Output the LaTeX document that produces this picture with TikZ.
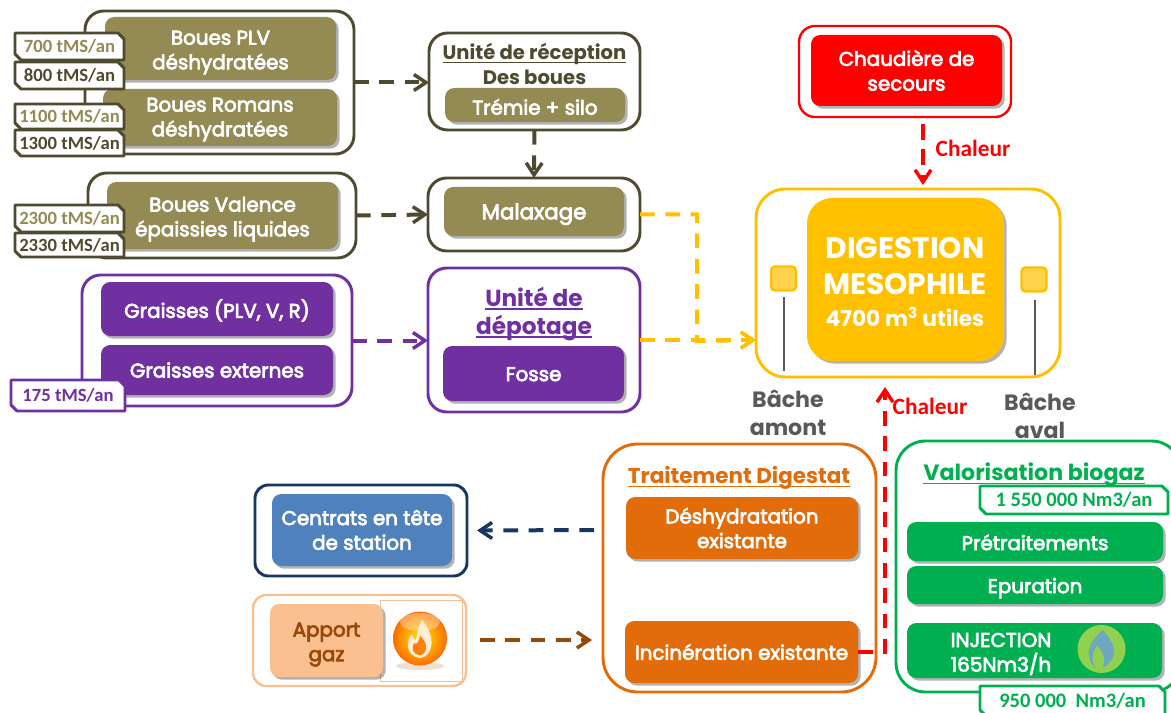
\documentclass[tikz,border=0pt]{standalone}
\usepackage{fontspec}
\setmainfont{Poppins}
\newfontfamily\tagfont{Carlito}
\newfontfamily\semif[FakeBold=3.5]{Poppins}
\usetikzlibrary{arrows.meta,shadows,calc}
\definecolor{olv}{HTML}{948A54}
\definecolor{olvd}{HTML}{4E4A30}
\definecolor{purp}{HTML}{7030A0}
\definecolor{ylw}{HTML}{FFC000}
\definecolor{org}{HTML}{E36C0A}
\definecolor{grn}{HTML}{00B050}
\definecolor{navy}{HTML}{17375E}
\definecolor{blu}{HTML}{4F81BD}
\definecolor{lorg}{HTML}{FAC090}
\definecolor{brn}{HTML}{984807}
\definecolor{gry}{HTML}{595959}
\definecolor{gcirc}{HTML}{92D050}
\definecolor{gflame}{HTML}{6FA8BE}
\newcommand{\ulx}[1]{\setbox0\hbox{#1}\rlap{\rule[-2.6pt]{\wd0}{1.1pt}}\box0}
\newcommand{\lf}[1]{\rule{0pt}{#1pt}}
\tikzset{
  sz/.style 2 args={minimum width=#1*0.75pt,minimum height=#2*0.75pt,inner sep=0pt,outer sep=0pt},
  outerbox/.style={draw=#1,fill=white,line width=2.2pt,rounded corners=14pt},
  innerbox/.style={fill=#1,rounded corners=7pt,text=white,align=center,
    font=\semif\fontsize{14.9pt}{18.5pt}\selectfont,
    drop shadow={shadow xshift=2pt,shadow yshift=-2pt,fill=black,opacity=.3}},
  lift/.style={execute at begin node={\rule{0pt}{#1pt}}},
  tagtext/.style={font=\tagfont\bfseries\fontsize{14pt}{15pt}\selectfont,text=#1,inner sep=0pt},
  flow/.style={draw=#1,line width=3pt,dash pattern=on 11pt off 8pt,
    -{Straight Barb[length=9pt,width=12pt,line width=2.6pt]}},
  titletext/.style={align=center,text=#1,font=\bfseries\fontsize{14.6pt}{18.5pt}\selectfont,inner sep=0pt},
  grylabel/.style={align=center,text=gry,font=\bfseries\fontsize{16.6pt}{21pt}\selectfont,inner sep=0pt},
  chal/.style={text=red,font=\tagfont\bfseries\fontsize{17.5pt}{18pt}\selectfont,inner sep=0pt},
}
% name, x1, y1, x2, y2, border colour, text colour, text
\newcommand{\tagbox}[8]{%
  \draw[draw=#6,fill=white,line width=2.2pt,line join=round]
    (#2,#3) -- ({#4-6},#3) -- (#4,{#3+6}) -- (#4,#5) -- ({#2+6},#5) -- (#2,{#5-6}) -- cycle;
  \node[tagtext=#7] (#1) at ({(#2+#4)/2},{(#3+#5)/2}) {#8};}
\begin{document}
\begin{tikzpicture}[x=0.75pt,y=-0.75pt]
\useasboundingbox (0,0) rectangle (1171,713);
% source groups
\node[outerbox=olvd,sz={269}{143}] (o1) at (219.5,82.5) {};
\node[innerbox=olv,sz={231}{63}] (plv) at (220.5,48.5) {\lf{16.5}Boues PLV\\déshydratées};
\node[innerbox=olv,sz={234}{57}] (rom) at (220,117.5) {\lf{13.5}Boues Romans\\déshydratées};
\tagbox{t1}{15}{33}{124}{60}{olvd}{olv}{700 tMS/an}
\tagbox{t2}{15}{62}{124}{89}{olvd}{olvd}{800 tMS/an}
\tagbox{t3}{15}{104}{124}{129}{olvd}{olv}{1100 tMS/an}
\tagbox{t4}{15}{130}{124}{156}{olvd}{olvd}{1300 tMS/an}
\node[outerbox=olvd,sz={268}{85}] (o2) at (222,215.5) {};
\node[innerbox=olv,sz={231}{67}] (val) at (222.5,215.5) {\lf{16.5}Boues Valence\\épaissies liquides};
\tagbox{t5}{15}{205}{124}{232}{olvd}{olv}{2300 tMS/an}
\tagbox{t6}{15}{233}{124}{257}{olvd}{olvd}{2330 tMS/an}
\node[outerbox=purp,sz={270}{131}] (o3) at (217,340.5) {};
\node[innerbox=purp,lift=16,sz={232}{54}] (gr1) at (217,309) {Graisses (PLV, V, R)};
\node[innerbox=purp,sz={232}{50}] (gr2) at (217,370) {Graisses externes};
\tagbox{t7}{11}{380}{125}{411}{purp}{purp}{175 tMS/an}
% reception column
\node[outerbox=olvd,sz={211}{97}] (rec) at (534.5,81.5) {};
\node[titletext=olvd,font=\bfseries\fontsize{14.7pt}{18.5pt}\selectfont] (rect) at (534.5,64) {\ulx{Unité de réception}\\Des boues};
\node[innerbox=olv,lift=14.5,sz={180}{34}] (trem) at (535,105) {Trémie + silo};
\node[outerbox=olvd,sz={212}{73}] (mal) at (534,214.5) {};
\node[innerbox=olv,lift=16,sz={180}{49},font=\semif\fontsize{16pt}{18.5pt}\selectfont] (malx) at (534,211.5) {Malaxage};
\node[outerbox=purp,sz={212}{144}] (dep) at (534,340) {};
\node[titletext=purp,font=\bfseries\fontsize{17.4pt}{21pt}\selectfont] (dept) at (534,314) {\ulx{Unité de}\\\ulx{dépotage}};
\node[innerbox=purp,lift=11.5,sz={181}{55}] (fos) at (533.5,373.5) {Fosse};
% digester
\node[outerbox=ylw,rounded corners=22pt,sz={304}{188}] (dig) at (908,283) {};
\node[fill=ylw,rounded corners=19pt,text=white,align=center,sz={197}{163},
  drop shadow={shadow xshift=2pt,shadow yshift=-2pt,fill=black,opacity=.3}] (digc) at (905.5,279.5) {};
\node[text=white,align=center,font=\bfseries\fontsize{22.2pt}{27pt}\selectfont,inner sep=0pt] (digt) at (905,266) {DIGESTION\\MESOPHILE};
\node[text=white,font=\bfseries\fontsize{16.3pt}{20pt}\selectfont,inner sep=0pt] (digv) at (905,317) {4700 m\textsuperscript{3} utiles};
\node[draw=ylw,fill=ylw!70,line width=1.8pt,rounded corners=3pt,sz={25}{24}] (sq1) at (783.5,278.5) {};
\node[draw=ylw,fill=ylw!70,line width=1.8pt,rounded corners=3pt,sz={25}{24}] (sq2) at (1034,279.5) {};
\coordinate (l1) at (784,371);
\coordinate (l2) at (1035,375);
\draw[gry,line width=1.5pt] (784,297) -- (l1);
\draw[gry,line width=1.5pt] (1035,300) -- (l2);
\node[grylabel] (bam) at (788,413) {Bâche\\amont};
\node[grylabel] (bav) at (1040,416) {Bâche\\aval};
% boiler
\node[outerbox=red,line width=1.8pt,rounded corners=12pt,sz={212}{91}] (cho) at (905,71.5) {};
\node[innerbox=red,lift=13,sz={191}{71}] (cho2) at (906.5,70.5) {Chaudière de\\secours};
\coordinate (chot) at (923,124);
\coordinate (digtop) at (923,185);
\draw[flow=red,line width=2.4pt,dash pattern=on 12pt off 7pt] (chot) -- (digtop);
\node[chal] (ch1) at (973,148) {Chaleur};
% digestate
\node[outerbox=org,rounded corners=26pt,sz={273}{248}] (tra) at (739.5,568) {};
\node[titletext=org,font=\bfseries\fontsize{16.1pt}{18pt}\selectfont] (trat) at (739,478) {\ulx{Traitement Digestat}};
\node[innerbox=org,lift=15.5,sz={232}{62}] (des) at (742,528) {Déshydratation\\existante};
\node[innerbox=org,sz={233}{62}] (inc) at (741.5,652) {Incinération existante};
% biogas
\node[outerbox=grn,rounded corners=22pt,sz={285}{251}] (vbg) at (1038.5,566.5) {};
\node[titletext=grn,font=\bfseries\fontsize{16.6pt}{18pt}\selectfont] (vbgt) at (1034,475) {\ulx{Valorisation biogaz}};
\tagbox{t8}{980}{486}{1168}{514}{grn}{grn}{\fontsize{15.4pt}{16pt}\selectfont 1 550 000 Nm3/an}
\node[innerbox=grn,lift=13,sz={256}{39}] (pre) at (1035,541.5) {Prétraitements};
\node[innerbox=grn,lift=16,sz={256}{38}] (epu) at (1035,585) {Epuration};
\node[innerbox=grn,sz={255}{55}] (inj) at (1034.5,650.5) {};
\node[text=white,align=center,font=\semif\fontsize{15pt}{18.5pt}\selectfont,inner sep=0pt] (injt) at (1001,654) {INJECTION\\165Nm3/h};
\node[circle,fill=gcirc,sz={48}{48}] (gf) at (1101.5,649) {};
\fill[gflame] (1103,630) .. controls (1115,645) and (1121,655) .. (1103,668)
  .. controls (1107,655) and (1100,650) .. (1097,645) .. controls (1093,652) and (1090,660) .. (1096,668)
  .. controls (1083,658) and (1088,642) .. (1103,630) -- cycle;
\tagbox{t9}{980}{686}{1165}{716}{grn}{grn}{\fontsize{15.4pt}{16pt}\selectfont 950 000\ \ Nm3/an}
% centrats / gas
\node[outerbox=navy,rounded corners=10pt,sz={212}{91}] (cen) at (361,530.5) {};
\node[innerbox=blu,sz={180}{72}] (cen2) at (362,530) {Centrats en tête\\de station};
\node[outerbox=lorg,line width=1.8pt,rounded corners=10pt,sz={213}{91}] (app) at (359.5,640.5) {};
\node[draw=lorg,line width=.7pt,fill=white,sz={82}{81}] (img) at (421,640.5) {};
\node[innerbox=lorg,text=brn,sz={113}{73}] (app2) at (326.5,640.5) {\lf{16.5}Apport\\gaz};
\fill[brown!40,opacity=.6] (420,666) ellipse [x radius=24,y radius=4];
\node[circle,sz={54}{54},inner color=yellow!85!orange,outer color=orange!85!red] (ball) at (420,638.5) {};
\fill[white,opacity=.35] (420,622) ellipse [x radius=20,y radius=9];
\fill[orange!15!white] (422,620) .. controls (436,636) and (434,656) .. (420,658)
  .. controls (405,656) and (406,640) .. (412,634) .. controls (414,640) and (415,640) .. (416,640)
  .. controls (418,632) and (418,626) .. (422,620) -- cycle;
\fill[orange] (420,636) .. controls (430,644) and (426,655) .. (420,655)
  .. controls (413,655) and (411,648) .. (414,643) .. controls (416,646) and (419,642) .. (420,636) -- cycle;
% connectors
\draw[flow=olvd] (o1.east) -- (o1.east -| rec.west);
\draw[flow=olvd] (rec.south) -- (mal.north);
\draw[flow=olvd] (o2.east) -- (mal.west);
\draw[flow=purp] (o3.east) -- (o3.east -| dep.west);
\coordinate (digin) at (dig.west |- dep.east);
\draw[flow=ylw] (mal.east) -- (mal.east -| 697,0) -- (697,341) -- (digin);
\draw[flow=ylw] (dep.east) -- (digin);
\coordinate (redbend) at (885,652);
\coordinate (redtop) at (885,387);
\draw[flow=red] (inc.east) -- (redbend) -- (redtop);
\node[chal] (ch2) at (930,406) {Chaleur};
\coordinate (cenin) at (cen.east);
\coordinate (trl) at (594,530);
\draw[flow=navy] (trl) -- ($(cenin)+(10,0)$);
\coordinate (appo) at (480,640);
\coordinate (trin) at (592,640);
\draw[flow=brn] (appo) -- (trin);
\end{tikzpicture}
\end{document}
